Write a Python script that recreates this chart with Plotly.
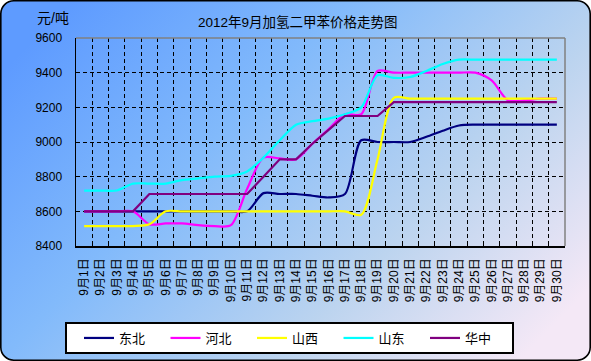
import base64
import plotly.graph_objects as go

days = ["9月1日", "9月2日", "9月3日", "9月4日", "9月5日", "9月6日", "9月7日", "9月8日", "9月9日", "9月10日",
        "9月11日", "9月12日", "9月13日", "9月14日", "9月15日", "9月16日", "9月17日", "9月18日", "9月19日", "9月20日",
        "9月21日", "9月22日", "9月23日", "9月24日", "9月25日", "9月26日", "9月27日", "9月28日", "9月29日", "9月30日"]

dongbei = [8600, 8600, 8600, 8600, 8600, 8600, 8600, 8600, 8600, 8600,
           8600, 8705, 8700, 8700, 8690, 8680, 8700, 9010, 9000, 9000,
           9000, 9030, 9065, 9095, 9100, 9100, 9100, 9100, 9100, 9100]
hebei = [8600, 8600, 8600, 8600, 8525, 8530, 8530, 8520, 8515, 8520,
         8730, 8910, 8905, 8900, 8990, 9075, 9160, 9160, 9410, 9400,
         9400, 9400, 9400, 9400, 9400, 9355, 9240, 9240, 9250, 9250]
shanxi = [8515, 8515, 8515, 8515, 8525, 8600, 8600, 8600, 8600, 8600,
          8600, 8600, 8600, 8600, 8600, 8600, 8600, 8580, 8900, 9255,
          9250, 9250, 9250, 9250, 9250, 9250, 9250, 9250, 9250, 9250]
shandong = [8720, 8720, 8720, 8760, 8760, 8760, 8780, 8790, 8800, 8805,
            8830, 8910, 9010, 9100, 9120, 9135, 9160, 9200, 9385, 9370,
            9375, 9410, 9450, 9475, 9475, 9475, 9475, 9475, 9475, 9475]
huazhong = [8600, 8600, 8600, 8600, 8700, 8700, 8700, 8700, 8700, 8700,
            8700, 8800, 8900, 8900, 8990, 9070, 9150, 9150, 9150, 9230,
            9230, 9230, 9230, 9230, 9230, 9230, 9230, 9230, 9230, 9230]

series = [
    ("东北", dongbei, "#000080", "spline"),
    ("河北", hebei, "#FF00FF", "spline"),
    ("山西", shanxi, "#FFFF00", "spline"),
    ("山东", shandong, "#00FFFF", "spline"),
    ("华中", huazhong, "#800080", "linear"),
]

W, H = 591, 361
L, R, T, B = 76, 565, 38, 246
pw, ph = R - L, B - T

FONT = "Liberation Sans, Arial, Noto Sans CJK SC"

fig = go.Figure()
for name, vals, color, shape in series:
    line = dict(color=color, width=2.2, shape=shape)
    if shape == "spline":
        line["smoothing"] = 0.8
    fig.add_trace(go.Scatter(x=days, y=vals, mode="lines", name=name, line=line))

svg = f"""<svg xmlns='http://www.w3.org/2000/svg' width='{W}' height='{H}' viewBox='0 0 {W} {H}'>
<defs><linearGradient id='g' x1='0' y1='0.2' x2='1' y2='0.8'>
<stop offset='0' stop-color='#5e9bff'/>
<stop offset='0.35' stop-color='#82bafb'/>
<stop offset='0.7' stop-color='#bcd4ef'/>
<stop offset='1' stop-color='#f4e8f6'/>
</linearGradient></defs>
<rect x='0.8' y='0.8' width='{W-1.6}' height='{H-1.6}' rx='13' ry='13' fill='url(#g)' stroke='black' stroke-width='1.6'/>
</svg>"""
src = "data:image/svg+xml;base64," + base64.b64encode(svg.encode()).decode()

def px_x(x):
    return (x - L) / pw

def px_y(y):
    return (B - y) / ph

fig.add_layout_image(dict(source=src, xref="paper", yref="paper",
                          x=px_x(0), y=px_y(0), sizex=W / pw, sizey=H / ph,
                          xanchor="left", yanchor="top", sizing="stretch", layer="below"))

shapes = [
    dict(type="line", xref="paper", yref="paper", x0=0, x1=1, y0=1, y1=1,
         line=dict(color="#808080", width=1.5), layer="above"),
    dict(type="line", xref="paper", yref="paper", x0=1, x1=1, y0=0, y1=1,
         line=dict(color="#808080", width=1.5), layer="above"),
    dict(type="rect", xref="paper", yref="paper", x0=px_x(66), x1=px_x(513), y0=px_y(353), y1=px_y(323),
         line=dict(color="black", width=2), fillcolor="white", layer="above"),
]

fig.update_layout(
    width=W, height=H,
    margin=dict(l=L, r=W - R, t=T, b=H - B, autoexpand=False),
    paper_bgcolor="white", plot_bgcolor="rgba(0,0,0,0)",
    font=dict(family=FONT, color="black", size=12),
    shapes=shapes,
    showlegend=True,
    legend=dict(orientation="h", x=px_x(79), y=px_y(338), xanchor="left", yanchor="middle",
                bgcolor="rgba(0,0,0,0)", borderwidth=0,
                font=dict(family=FONT, size=13, color="black"),
                entrywidth=41.5, entrywidthmode="pixels", itemwidth=30, itemclick=False),
    annotations=[
        dict(text="2012年9月加氢二甲苯价格走势图", xref="paper", yref="paper",
             x=px_x(297.5), y=px_y(22), showarrow=False, xanchor="center", yanchor="middle",
             font=dict(family=FONT, size=13.5, color="black")),
        dict(text="元/吨", xref="paper", yref="paper",
             x=px_x(53), y=px_y(18), showarrow=False, xanchor="center", yanchor="middle",
             font=dict(family=FONT, size=14, color="black")),
    ],
    xaxis=dict(type="category", range=[-0.5, 29.5], tickson="boundaries",
               ticks="inside", ticklen=4, tickcolor="black", tickwidth=1,
               showline=True, linecolor="black", linewidth=1.5,
               showgrid=True, gridcolor="black", gridwidth=1, griddash="4px,3px",
               tickangle=-90, tickfont=dict(family=FONT, size=12, color="black"),
               ticklabelstandoff=6, zeroline=False, fixedrange=True),
    yaxis=dict(range=[8400, 9600], dtick=200, tick0=8400,
               ticks="", showline=True, linecolor="black", linewidth=1.5,
               showgrid=True, gridcolor="black", gridwidth=1, griddash="4px,3px",
               tickfont=dict(family=FONT, size=12, color="black"),
               ticklabelstandoff=10, zeroline=False, fixedrange=True),
)

fig.write_html("out.html", config={"displayModeBar": False, "staticPlot": True},
               post_script="document.body.style.margin='0';document.body.style.overflow='hidden';")
